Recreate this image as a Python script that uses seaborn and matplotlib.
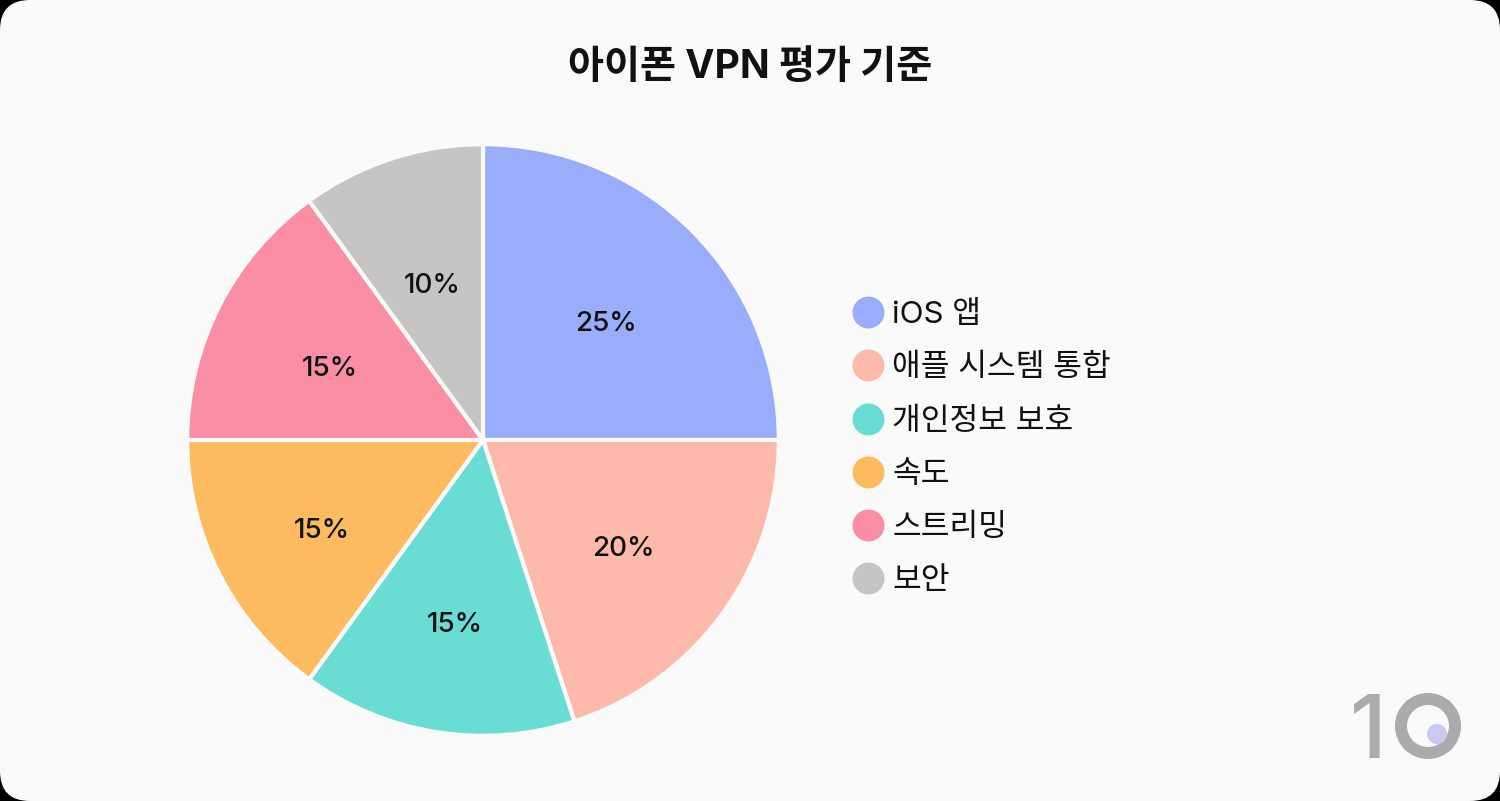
import matplotlib
matplotlib.use("Agg")
import matplotlib.pyplot as plt
import seaborn as sns
from matplotlib.lines import Line2D
from matplotlib.patches import FancyBboxPatch, Ellipse
from matplotlib.transforms import IdentityTransform, ScaledTranslation

categories = ["iOS 앱", "애플 시스템 통합", "개인정보 보호", "속도", "스트리밍", "보안"]
weights = [25, 20, 15, 15, 15, 10]
colors = ["#9AADFA", "#FDB9AA", "#69DCD3", "#FDBB5F", "#F98EA4", "#C6C5C3"]
title = "아이폰 VPN 평가 기준"

# small pixel nudges for the percentage labels (dx right, dy down)
label_nudges = [(0, 7), (-1, 6), (-1, 13), (-6, 12), (2, 8), (3, 12)]

sns.set_theme(style="white")
plt.rcParams["font.family"] = ["Inter", "Noto Sans CJK KR", "DejaVu Sans"]
W, H = 1500, 801
palette = sns.color_palette(colors)

fig = plt.figure(figsize=(W / 100, H / 100), dpi=100, facecolor="black")
card = FancyBboxPatch((0, 0), W, H, boxstyle="round,pad=0,rounding_size=30",
                      fc="#FAFAFA", ec="none", zorder=-5,
                      transform=IdentityTransform())
fig.add_artist(card)

ax = fig.add_axes([186 / W, (H - 737) / H, 594 / W, 594 / H], zorder=1)
ax.patch.set_alpha(0)
wedges, texts, autotexts = ax.pie(
    weights, colors=palette, startangle=90, counterclock=False,
    autopct="%d%%", pctdistance=0.59, radius=0.996,
    wedgeprops=dict(edgecolor="#FAFAFA", linewidth=3),
    textprops=dict(fontsize=20, color="#111111", fontweight="medium"),
)
ax.set_xlim(-1, 1)
ax.set_ylim(-1, 1)
for t, (dx, dy) in zip(autotexts, label_nudges):
    t.set_transform(t.get_transform() + ScaledTranslation(dx / 100, -dy / 100, fig.dpi_scale_trans))

fig.text(750 / W, 1 - 68 / H, title, ha="center", va="center",
         fontsize=28.2, fontweight="bold", color="#111111")

handles = [Line2D([], [], linestyle="none", marker="o", markersize=23,
                  markerfacecolor=c, markeredgecolor="none") for c in palette]
leg = fig.legend(handles, categories, loc="center left",
                 bbox_to_anchor=(830 / W, 1 - 448 / H), frameon=False,
                 fontsize=22.5, labelcolor="#111111", labelspacing=0.80,
                 handletextpad=0.094, handlelength=1.40, borderpad=0)

logo_grey = "#ABABAB"
fig.text(1387 / W, 1 - 758 / H, "1", ha="right", va="baseline",
         fontsize=64, fontweight="medium", color=logo_grey, zorder=5)
fig.add_artist(Ellipse((1428, H - 726), 54, 54, fc="none", ec=logo_grey,
                       lw=8.64, transform=IdentityTransform(), zorder=5))
fig.add_artist(Ellipse((1437, H - 734), 20, 20, fc="#C9C9F2", ec="none",
                       transform=IdentityTransform(), zorder=6))

fig.savefig("out.png", dpi=100, facecolor="black")
